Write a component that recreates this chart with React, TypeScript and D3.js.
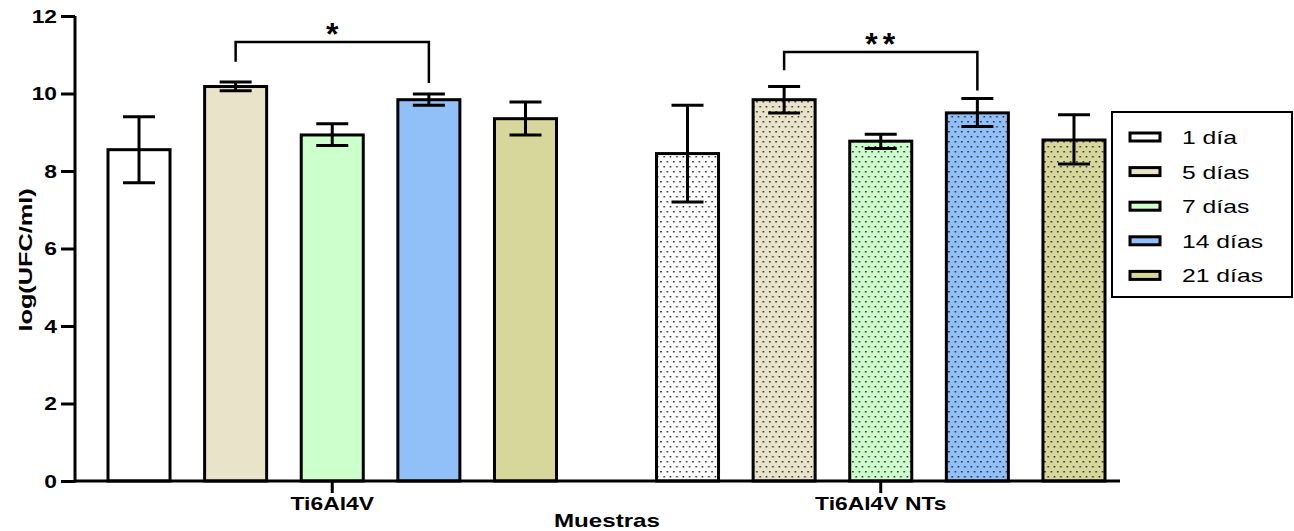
import React, { useEffect, useRef } from 'react'
import * as d3 from 'd3'

const groups = ['Ti6Al4V', 'Ti6Al4V NTs']
const series = ['1 día', '5 días', '7 días', '14 días', '21 días']
const colors = ['#ffffff', '#e9e4c9', '#ccffcc', '#91bff8', '#d7d79c']
const means = [
  [8.55, 10.18, 8.93, 9.84, 9.35],
  [8.45, 9.84, 8.77, 9.5, 8.8],
]
const errLow = [
  [7.7, 10.07, 8.66, 9.7, 8.93],
  [7.2, 9.5, 8.58, 9.15, 8.18],
]
const errHigh = [
  [9.4, 10.3, 9.22, 9.99, 9.78],
  [9.7, 10.18, 8.95, 9.87, 9.45],
]
const yTicks = [0, 2, 4, 6, 8, 10, 12]
// significance brackets (top of bracket, end of each leg, label)
const brackets = [
  { g: 0, a: 1, b: 3, top: 11.33, la: 10.82, lb: 10.27, label: '*' },
  { g: 1, a: 1, b: 3, top: 11.07, la: 10.6, lb: 10.08, label: '**' },
]

const FONT = 'Liberation Sans, Arial, sans-serif'

// the original text is drawn wider than normal Arial, stretch it horizontally
function stretch(sel: any, k: number) {
  sel.each(function (this: SVGTextElement) {
    const w = this.getComputedTextLength()
    d3.select(this).attr('textLength', w * k).attr('lengthAdjust', 'spacingAndGlyphs')
  })
}

export default function App() {
  const ref = useRef<SVGSVGElement>(null)

  useEffect(() => {
    const svg = d3.select(ref.current)
    svg.selectAll('*').remove()
    const left = 75, top = 16, bottom = 481, right = 1120

    const y = d3.scaleLinear().domain([0, 12]).range([bottom, top])
    const x0 = d3.scaleBand().domain(groups).range([108, 1105]).paddingInner(0.1823).paddingOuter(0)
    const x1 = d3.scaleBand().domain(series).range([0, x0.bandwidth()]).paddingInner(0.358).paddingOuter(0)

    const defs = svg.append('defs')
    colors.forEach((c, i) => {
      const p = defs.append('pattern').attr('id', 'dots' + i)
        .attr('patternUnits', 'userSpaceOnUse').attr('width', 6.4).attr('height', 10)
      p.append('rect').attr('width', 6.4).attr('height', 10).attr('fill', c)
      p.append('rect').attr('x', 1).attr('y', 1).attr('width', 1.5).attr('height', 1.5).attr('fill', '#222')
      p.append('rect').attr('x', 4.2).attr('y', 6).attr('width', 1.5).attr('height', 1.5).attr('fill', '#222')
    })

    const g = svg.append('g')
    groups.forEach((grp, gi) => {
      series.forEach((s, si) => {
        const bx = x0(grp)! + x1(s)!
        const bw = x1.bandwidth()
        g.append('rect')
          .attr('x', bx).attr('y', y(means[gi][si]))
          .attr('width', bw).attr('height', y(0) - y(means[gi][si]))
          .attr('fill', gi === 0 ? colors[si] : `url(#dots${si})`)
          .attr('stroke', '#000').attr('stroke-width', 3)
        const cx = bx + bw / 2
        const cap = 16
        g.append('line').attr('x1', cx).attr('x2', cx)
          .attr('y1', y(errLow[gi][si])).attr('y2', y(errHigh[gi][si]))
          .attr('stroke', '#000').attr('stroke-width', 3)
        ;[errLow[gi][si], errHigh[gi][si]].forEach(v => {
          g.append('line').attr('x1', cx - cap).attr('x2', cx + cap)
            .attr('y1', y(v)).attr('y2', y(v))
            .attr('stroke', '#000').attr('stroke-width', 3)
        })
      })
    })

    // brackets
    brackets.forEach(b => {
      const xa = x0(groups[b.g])! + x1(series[b.a])! + x1.bandwidth() / 2
      const xb = x0(groups[b.g])! + x1(series[b.b])! + x1.bandwidth() / 2
      g.append('path')
        .attr('d', `M${xa},${y(b.la)}V${y(b.top)}H${xb}V${y(b.lb)}`)
        .attr('fill', 'none').attr('stroke', '#000').attr('stroke-width', 2.5)
      g.append('text').attr('x', (xa + xb) / 2 + (b.label.length > 1 ? 2 : 0)).attr('y', y(b.top) + 3)
        .attr('text-anchor', 'middle')
        .attr('font-family', FONT)
        .attr('font-size', 32).attr('font-weight', 'bold')
        .attr('letter-spacing', b.label.length > 1 ? 5 : 0)
        .text(b.label)
    })

    // y axis
    const ya = svg.append('g').attr('transform', `translate(${left},0)`)
      .call(d3.axisLeft(y).tickValues(yTicks).tickSize(14).tickPadding(4).tickFormat(d3.format('d')))
    ya.select('.domain').attr('stroke-width', 3).attr('d', `M0,${bottom + 1.5}V${top}`)
    ya.selectAll('.tick line').attr('stroke-width', 3)
    ya.selectAll('.tick text').attr('font-family', FONT)
      .attr('font-size', 19).attr('font-weight', 'bold').attr('fill', '#000')
    stretch(ya.selectAll('.tick text'), 1.2)

    // x axis
    const xa = svg.append('g').attr('transform', `translate(0,${bottom})`)
      .call(d3.axisBottom(x0).tickSize(12).tickPadding(4))
    xa.select('.domain').attr('stroke-width', 3).attr('d', `M${left},0H${right}`)
    xa.selectAll('.tick line').attr('stroke-width', 3)
    xa.selectAll('.tick text').attr('font-family', FONT)
      .attr('font-size', 18).attr('font-weight', 'bold').attr('fill', '#000')
    stretch(xa.selectAll('.tick text'), 1.27)

    const xt = svg.append('text').attr('x', 607).attr('y', 527).attr('text-anchor', 'middle')
      .attr('font-family', FONT).attr('font-size', 19).attr('font-weight', 'bold')
      .text('Muestras')
    stretch(xt, 1.27)
    const yt = svg.append('text').attr('transform', `translate(32,260) rotate(-90)`)
      .attr('text-anchor', 'middle')
      .attr('font-family', FONT).attr('font-size', 19).attr('font-weight', 'bold')
      .text('log(UFC/ml)')
    stretch(yt, 1.33)

    // legend
    const lg = svg.append('g').attr('transform', 'translate(1112,112)')
    lg.append('rect').attr('width', 180).attr('height', 185).attr('fill', '#fff')
      .attr('stroke', '#000').attr('stroke-width', 2)
    series.forEach((s, i) => {
      const ly = 25 + i * 34.6
      lg.append('rect').attr('x', 18).attr('y', ly - 4).attr('width', 30).attr('height', 8)
        .attr('fill', colors[i]).attr('stroke', '#000').attr('stroke-width', 3)
      const t = lg.append('text').attr('x', 70).attr('y', ly + 7)
        .attr('font-family', FONT).attr('font-size', 19)
        .text(s)
      stretch(t, 1.3)
    })
  }, [])

  return <svg ref={ref} width={1294} height={531} style={{ display: 'block', position: 'absolute', left: 0, top: 0 }} />
}
